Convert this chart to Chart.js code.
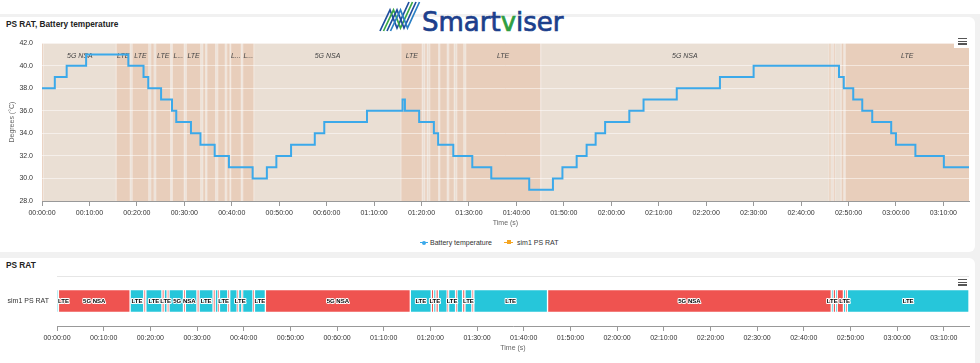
<!DOCTYPE html>
<html>
<head>
<meta charset="utf-8">
<script src="https://cdn.jsdelivr.net/npm/chart.js@4.4.1/dist/chart.umd.min.js"></script>
<style>
  body { margin:0; width:980px; height:363px; background:#f1f1f1; overflow:hidden; position:relative;
         font-family:"Liberation Sans", Arial, sans-serif; }
  .header { position:absolute; left:0; top:0; width:980px; height:14px; background:#fff; }
  .card { position:absolute; left:-6px; width:981px; background:#fff; border-radius:6px; }
  .title { position:absolute; left:6px; font-weight:bold; font-size:8.3px; line-height:10px; color:#222; }
  .menu { position:absolute; width:9px; }
  .menu i { display:block; width:9px; height:1.4px; background:#555; margin-bottom:1.3px; }
  .legend { position:absolute; top:238px; font-size:7px; line-height:9px; color:#333; }
  canvas { position:absolute; left:0; }
</style>
</head>
<body>
<div class="header"></div>
<div class="card" style="top:17px;height:235px"></div>
<div class="card" style="top:258px;height:120px"></div>

<svg style="position:absolute;left:376px;top:0" width="200" height="36">
  <g fill="none" stroke-width="1.7">
    <polyline points="4,31 14,10 21,28 33,2" stroke="#1f4e9e"/>
    <polyline points="7.5,31 17.5,10 24.5,28 36.5,2" stroke="#3aa845"/>
    <polyline points="11,31 21,10 28,28 40,2" stroke="#1f4e9e"/>
    <polyline points="14.5,31 24.5,10 31.5,28 43.5,2" stroke="#2a7fc4"/>
  </g>
  <text x="46" y="30.7" font-family="DejaVu Sans" font-size="26" fill="#1c3f8c" stroke="#1c3f8c" stroke-width="0.7">Smart<tspan fill="#2f9e41" stroke="#2f9e41">v</tspan>iser</text>
</svg>

<div class="title" style="top:19px">PS RAT, Battery temperature</div>
<canvas id="tempChart" width="975" height="197" style="top:30px"></canvas>
<div style="position:absolute;left:954px;top:36px;width:15px;height:12px;background:#fff"></div>
<div class="menu" style="left:958px;top:38px"><i></i><i></i><i></i></div>

<div class="legend" style="left:0;width:980px;height:9px">
  <span style="position:absolute;left:420px;top:3.8px;width:8px;height:1.6px;background:#3ba9ea"></span>
  <span style="position:absolute;left:422px;top:2.5px;width:4px;height:4px;border-radius:50%;background:#3ba9ea"></span>
  <span style="position:absolute;left:430px;top:0;white-space:nowrap">Battery temperature</span>
  <span style="position:absolute;left:504px;top:3.8px;width:9px;height:1.6px;background:#f5a623"></span>
  <span style="position:absolute;left:506.5px;top:2.3px;width:4px;height:4px;background:#f5a623"></span>
  <span style="position:absolute;left:517px;top:0;white-space:nowrap">sim1 PS RAT</span>
</div>

<div class="title" style="top:260px">PS RAT</div>
<canvas id="ratChart" width="975" height="105" style="top:258px"></canvas>
<div class="menu" style="left:958px;top:279px"><i></i><i></i><i></i></div>

<script>
// x axis: seconds since start, labels as shown on the dashboard
var axisMax = 11724;
var tickLabels = ['00:00:00','00:10:00','00:20:00','00:30:00','00:40:00','00:50:00','00:60:00',
  '01:10:00','01:20:00','01:30:00','01:40:00','01:50:00','02:00:00','02:10:00','02:20:00',
  '02:30:00','02:40:00','02:50:00','03:00:00','03:10:00'];
var tickValues = tickLabels.map(function (l, i) { return i * 600; });

// battery temperature, value holds from each time until the next one
var tempTimes = [0,162,312,558,1092,1284,1344,1506,1644,1698,1884,2004,2184,2364,2664,
  2844,2964,3150,3450,3570,4110,4560,4590,4770,4956,5010,5202,5442,5682,6162,
  6462,6582,6762,6888,7002,7122,7428,7608,8028,8574,9000,
  10080,10140,10260,10374,10500,10740,10800,11046,11406,11724];
var tempValues = [38,39,40,41,40,39,38,37,36,35,34,33,32,31,30,
  31,32,33,34,35,36,37,36,35,34,33,32,31,30,29,
  30,31,32,33,34,35,36,37,38,39,40,
  39,38,37,36,35,34,33,32,31,31];

// sim1 PS RAT segments
var rowLabels = ['sim1 PS RAT'];
var ratStart = [0,18,940,1116,1142,1350,1378,1416,1440,1626,1650,1800,1827,2007,2034,2070,2088,2196,2220,2316,
  2334,2376,2386,2520,2538,2679,4542,4812,4842,4872,4902,5016,5034,5124,5142,5214,5244,5334,5358,6306,
  9954,9978,10010,10030,10110,10140,10160];
var ratEnd = [18,940,1116,1142,1350,1378,1416,1440,1626,1650,1800,1827,2007,2034,2070,2088,2196,2220,2316,2334,
  2376,2386,2520,2538,2679,4542,4812,4842,4872,4902,5016,5034,5124,5142,5214,5244,5334,5358,6306,9954,
  9978,10010,10030,10110,10140,10160,11724];
var ratName = ['LTE','5G NSA','LTE','5G NSA','LTE','5G NSA','LTE','5G NSA','LTE','5G NSA','LTE','5G NSA',
  'LTE','5G NSA','LTE','5G NSA','LTE','5G NSA','LTE','5G NSA','LTE','5G NSA','LTE','5G NSA','LTE','5G NSA',
  'LTE','5G NSA','LTE','5G NSA','LTE','5G NSA','LTE','5G NSA','LTE','5G NSA','LTE','5G NSA','LTE','5G NSA',
  'LTE','5G NSA','LTE','5G NSA','LTE','5G NSA','LTE'];

var bandColors = { 'LTE': '#e8cebb', '5G NSA': '#eadfd4' };
var barColors = { 'LTE': '#26c6da', '5G NSA': '#ef5350' };

Chart.defaults.font.family = '"Liberation Sans", Arial, sans-serif';
Chart.defaults.animation = false;

function timeAxis() {
  return {
    type: 'linear', min: 0, max: axisMax,
    afterFit: function (s) { s.height = 26; },
    afterBuildTicks: function (s) { s.ticks = tickValues.map(function (v) { return { value: v }; }); },
    ticks: { autoSkip: false, maxRotation: 0, padding: 3, color: '#333', font: { size: 7 },
      callback: function (v, i) { return tickLabels[i]; } },
    grid: { drawOnChartArea: false, tickLength: 5, tickColor: '#999' },
    border: { color: '#999' },
    title: { display: true, text: 'Time (s)', color: '#666', font: { size: 7 }, padding: { top: 0, bottom: 0 } }
  };
}

// RAT plot bands behind the temperature line
var bandPlugin = {
  id: 'ratBands',
  beforeDraw: function (chart) {
    var ctx = chart.ctx, a = chart.chartArea, x = chart.scales.x;
    ctx.save();
    for (var i = 0; i < ratStart.length; i++) {
      var x0 = x.getPixelForValue(ratStart[i]), x1 = x.getPixelForValue(ratEnd[i]);
      ctx.fillStyle = bandColors[ratName[i]];
      ctx.fillRect(x0, a.top, x1 - x0, a.bottom - a.top);
    }
    ctx.fillStyle = 'rgba(255,255,255,0.28)';
    for (var j = 1; j < ratStart.length; j++) {
      ctx.fillRect(Math.round(x.getPixelForValue(ratStart[j])) - 0.5, a.top, 1, a.bottom - a.top);
    }
    ctx.restore();
  },
  beforeDatasetsDraw: function (chart) {
    var ctx = chart.ctx, a = chart.chartArea, x = chart.scales.x;
    ctx.save();
    ctx.font = 'italic 7px "Liberation Sans", Arial';
    ctx.fillStyle = '#444';
    ctx.textAlign = 'center';
    ctx.textBaseline = 'middle';
    for (var i = 0; i < ratStart.length; i++) {
      var x0 = x.getPixelForValue(ratStart[i]), x1 = x.getPixelForValue(ratEnd[i]);
      var w = x1 - x0, text = ratName[i];
      if (ctx.measureText(text).width + 0.4 > w) {
        text = text[0] + '...';
        if (ctx.measureText(text).width + 0.4 > w) continue;
      }
      ctx.fillText(text, (x0 + x1) / 2, a.top + 13);
    }
    ctx.restore();
  }
};

new Chart(document.getElementById('tempChart'), {
  type: 'line',
  data: {
    datasets: [{
      label: 'Battery temperature',
      data: tempTimes.map(function (t, i) { return { x: t, y: tempValues[i] }; }),
      stepped: true,
      borderColor: '#3ba9ea',
      borderWidth: 2,
      pointRadius: 0
    }]
  },
  options: {
    responsive: false,
    devicePixelRatio: 1,
    layout: { padding: { top: 6, right: 6, bottom: 0, left: 0 } },
    plugins: { legend: { display: false }, tooltip: { enabled: false } },
    scales: {
      x: timeAxis(),
      y: {
        min: 28, max: 42,
        afterFit: function (s) { s.width = 42; },
        ticks: { stepSize: 2, padding: 9, color: '#333', font: { size: 7 },
          callback: function (v) { return v.toFixed(1); } },
        grid: { color: 'rgba(255,255,255,0.5)', drawTicks: false },
        border: { display: false },
        title: { display: true, text: 'Degrees (°C)', color: '#666', font: { size: 7 }, padding: { top: 7.5, bottom: 0 } }
      }
    }
  },
  plugins: [bandPlugin]
});

// labels on the x-range bars, hidden when they would overlap
var barLabelPlugin = {
  id: 'barLabels',
  afterDatasetsDraw: function (chart) {
    var ctx = chart.ctx, a = chart.chartArea;
    var bars = chart.getDatasetMeta(0).data;
    var placed = [];
    ctx.save();
    ctx.font = 'bold 6px "Liberation Sans", Arial';
    ctx.textAlign = 'center';
    ctx.textBaseline = 'middle';
    ctx.lineJoin = 'round';
    bars.forEach(function (bar, i) {
      var text = ratName[i];
      var w = ctx.measureText(text).width;
      var p = bar.getProps(['x', 'base', 'y'], true);
      var cx = (p.x + p.base) / 2;
      cx = Math.max(cx, a.left + w / 2 + 1);
      cx = Math.min(cx, a.right - w / 2 - 1);
      var l = cx - w / 2, r = cx + w / 2;
      if (placed.some(function (q) { return l < q[1] && r > q[0]; })) return;
      placed.push([l, r]);
      ctx.strokeStyle = '#fff';
      ctx.lineWidth = 2;
      ctx.strokeText(text, cx, p.y);
      ctx.fillStyle = '#000';
      ctx.fillText(text, cx, p.y);
    });
    ctx.restore();
  }
};

new Chart(document.getElementById('ratChart'), {
  type: 'bar',
  data: {
    labels: rowLabels,
    datasets: [{
      label: 'sim1 PS RAT',
      data: ratStart.map(function (s, i) { return { x: [s, ratEnd[i]], y: rowLabels[0] }; }),
      backgroundColor: function (c) { return barColors[ratName[c.dataIndex]]; },
      borderColor: '#fff',
      borderWidth: 1,
      borderSkipped: false,
      barThickness: 23
    }]
  },
  options: {
    indexAxis: 'y',
    responsive: false,
    devicePixelRatio: 1,
    layout: { padding: { top: 18, right: 6, bottom: 11, left: 0 } },
    plugins: { legend: { display: false }, tooltip: { enabled: false } },
    scales: {
      x: timeAxis(),
      y: {
        afterFit: function (s) { s.width = 57; },
        ticks: { padding: 8, color: '#333', font: { size: 7 } },
        grid: { offset: true, color: '#e6e6e6', drawTicks: false },
        border: { display: false }
      }
    }
  },
  plugins: [barLabelPlugin]
});
</script>
</body>
</html>
